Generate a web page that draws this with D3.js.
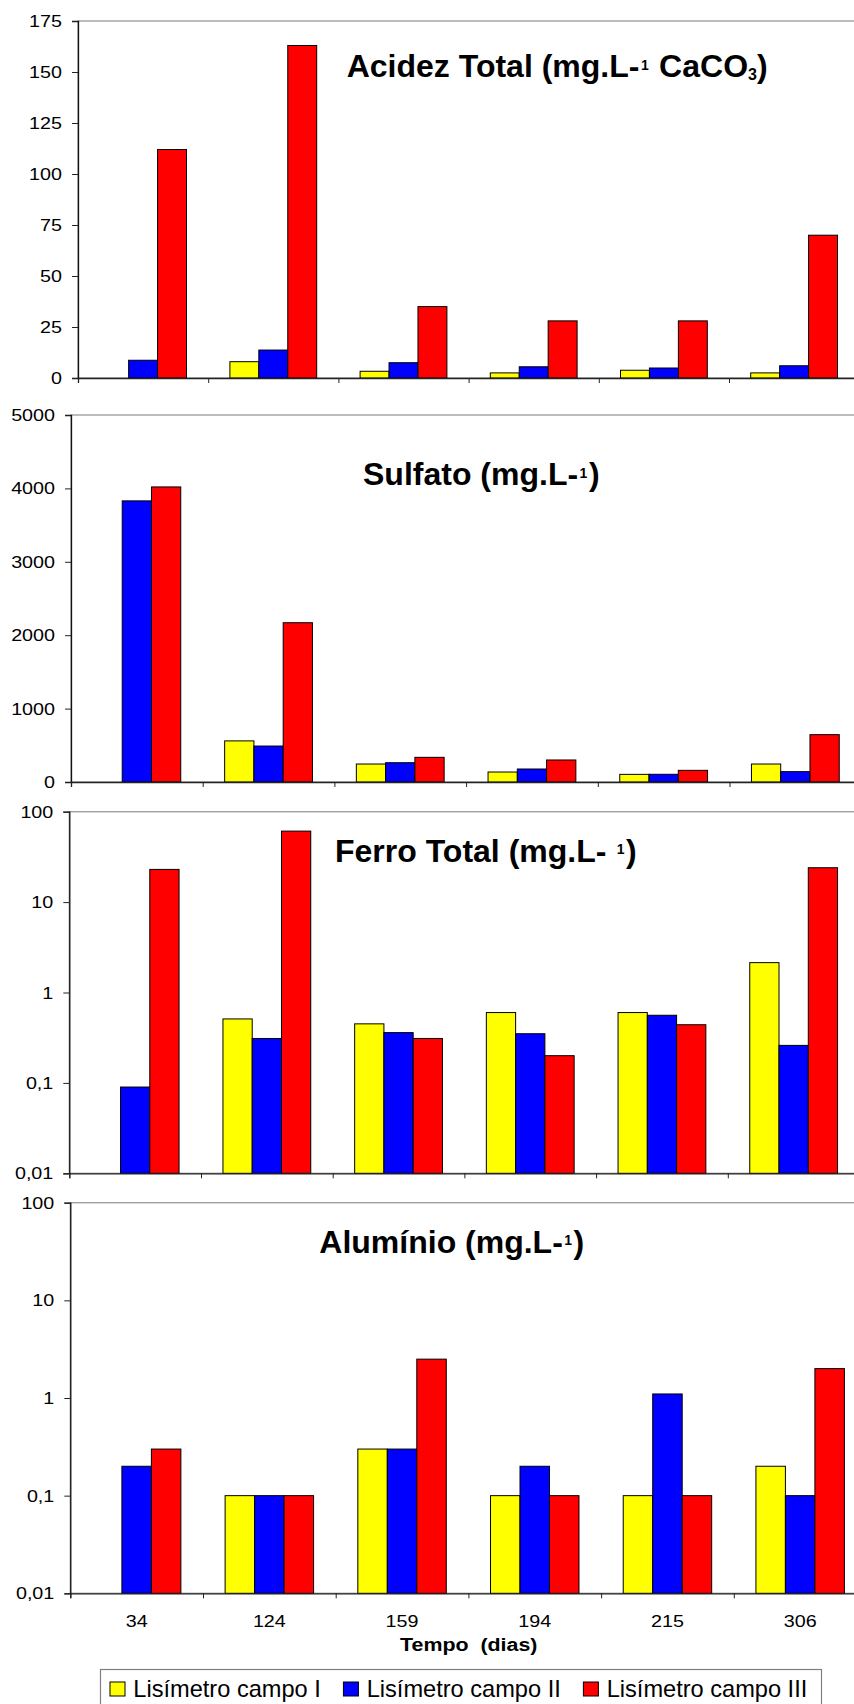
<!DOCTYPE html>
<html>
<head>
<meta charset="utf-8">
<script src="https://cdn.jsdelivr.net/npm/d3@7"></script>
<style>
  html, body { margin: 0; padding: 0; background: #fff; }
  svg { display: block; font-family: "Liberation Sans", Arial, sans-serif; }
</style>
</head>
<body>
<svg id="chart" width="854" height="1704"></svg>
<script>
// Sampling days (categories) and lysimeter series
const categories = ["34", "124", "159", "194", "215", "306"];
const seriesNames = ["Lisímetro campo I", "Lisímetro campo II", "Lisímetro campo III"];
const seriesColors = ["#ffff00", "#0000ff", "#ff0000"];

// Acidez total (mg.L-1 CaCO3)
const acidezI   = [null, 8, 3.3, 2.5, 3.8, 2.5];
const acidezII  = [8.7, 13.7, 7.5, 5.5, 4.9, 6];
const acidezIII = [112, 163, 35, 28, 28, 70];

// Sulfato (mg.L-1)
const sulfatoI   = [null, 560, 245, 136, 104, 245];
const sulfatoII  = [3830, 490, 263, 177, 105, 141];
const sulfatoIII = [4020, 2170, 336, 300, 159, 645];

// Ferro total (mg.L-1), log scale
const ferroI   = [null, 0.51, 0.45, 0.60, 0.60, 2.14];
const ferroII  = [0.09, 0.31, 0.36, 0.35, 0.56, 0.26];
const ferroIII = [23, 61, 0.31, 0.20, 0.44, 24];

// Alumínio (mg.L-1), log scale
const aluminioI   = [null, 0.1, 0.3, 0.1, 0.1, 0.2];
const aluminioII  = [0.2, 0.1, 0.3, 0.2, 1.1, 0.1];
const aluminioIII = [0.3, 0.1, 2.5, 0.1, 0.1, 2.0];

// Axis tick values
const acidezTicks = [0, 25, 50, 75, 100, 125, 150, 175];
const sulfatoTicks = [0, 1000, 2000, 3000, 4000, 5000];
const logTicks = [0.01, 0.1, 1, 10, 100];

const xAxisTitle = "Tempo  (dias)";

const panels = [
  { title: [{ t: "Acidez Total (mg.L-" }, { t: "1", sup: true }, { t: " CaCO" }, { t: "3", sub: true }, { t: ")" }],
    series: [acidezI, acidezII, acidezIII], log: false, domain: [0, 175], ticks: acidezTicks,
    x0: 78, top: 21, bottom: 378, step: 130.2, titleX: 346.7, titleY: 77 },
  { title: [{ t: "Sulfato (mg.L-" }, { t: "1", sup: true }, { t: ")" }],
    series: [sulfatoI, sulfatoII, sulfatoIII], log: false, domain: [0, 5000], ticks: sulfatoTicks,
    x0: 71, top: 415, bottom: 782, step: 131.7, titleX: 363, titleY: 485 },
  { title: [{ t: "Ferro Total (mg.L- " }, { t: "1", sup: true }, { t: ")" }],
    series: [ferroI, ferroII, ferroIII], log: true, domain: [0.01, 100], ticks: logTicks,
    x0: 69.3, top: 811.7, bottom: 1173.3, step: 131.7, titleX: 335, titleY: 861.7 },
  { title: [{ t: "Alumínio (mg.L-" }, { t: "1", sup: true }, { t: ")" }],
    series: [aluminioI, aluminioII, aluminioIII], log: true, domain: [0.01, 100], ticks: logTicks,
    x0: 70.3, top: 1202.7, bottom: 1593.3, step: 132.7, titleX: 319.3, titleY: 1252.7, showCategories: true }
];

const svg = d3.select("#chart");
const STRETCH = 1.14;   // the axis lettering is drawn slightly wide
const fmt = d => String(d).replace(".", ",");

panels.forEach(p => {
  const n = categories.length;
  const x1 = p.x0 + p.step * n;
  const g = svg.append("g");

  const x = d3.scaleBand().domain(categories).range([p.x0, x1])
    .paddingInner(1 / 3).paddingOuter(1 / 6);
  const xs = d3.scaleBand().domain(d3.range(seriesNames.length)).range([0, x.bandwidth()]);
  const y = p.log
    ? d3.scaleLog().domain(p.domain).range([p.bottom, p.top])
    : d3.scaleLinear().domain(p.domain).range([p.bottom, p.top]);
  const base = p.domain[0];

  // plot area frame
  g.append("rect")
    .attr("x", p.x0).attr("y", p.top)
    .attr("width", x1 - p.x0).attr("height", p.bottom - p.top)
    .attr("fill", "none").attr("stroke", "#a0a0a0").attr("stroke-width", 1.4);

  // bars
  p.series.forEach((vals, si) => {
    g.append("g").selectAll("rect")
      .data(vals.map((v, i) => ({ v, c: categories[i] })).filter(d => d.v != null))
      .join("rect")
      .attr("x", d => x(d.c) + xs(si))
      .attr("y", d => y(d.v))
      .attr("width", xs.bandwidth())
      .attr("height", d => y(base) - y(d.v))
      .attr("fill", seriesColors[si])
      .attr("stroke", "#000").attr("stroke-width", 1);
  });

  // value axis
  const yAxis = g.append("g").attr("transform", `translate(${p.x0},0)`)
    .call(d3.axisLeft(y).tickValues(p.ticks).tickSize(6).tickPadding(10).tickFormat(fmt));
  yAxis.select(".domain").attr("stroke", "#111").attr("stroke-width", 1.3);
  yAxis.selectAll(".tick line").attr("stroke", "#222");
  yAxis.selectAll(".tick text")
    .attr("font-size", 17.3).attr("font-family", "Liberation Sans, Arial, sans-serif")
    .attr("fill", "#000")
    .attr("x", -16 / STRETCH)
    .attr("transform", `scale(${STRETCH},1)`);

  // category axis: ticks on category boundaries
  const xb = d3.scaleLinear().domain([0, n]).range([p.x0, x1]);
  const xAxis = g.append("g").attr("transform", `translate(0,${p.bottom})`)
    .call(d3.axisBottom(xb).tickValues(d3.range(n + 1)).tickSize(5).tickFormat(""));
  xAxis.select(".domain").attr("stroke", "#222").attr("stroke-width", 1.3);
  xAxis.selectAll(".tick line").attr("stroke", "#222");

  if (p.showCategories) {
    const lab = g.append("g").attr("transform", `translate(0,${p.bottom})`)
      .call(d3.axisBottom(x).tickSize(0).tickPadding(0));
    lab.select(".domain").remove();
    lab.selectAll(".tick text")
      .attr("font-size", 17.3).attr("font-family", "Liberation Sans, Arial, sans-serif")
      .attr("fill", "#000")
      .attr("dy", null).attr("y", 33.4)
      .attr("transform", `scale(${STRETCH},1)`);
  }

  // panel title with small super/subscripts
  const title = g.append("text")
    .attr("x", p.titleX).attr("y", p.titleY)
    .attr("font-size", 32).attr("font-weight", "bold").attr("fill", "#000")
    .attr("font-family", "Liberation Sans, Arial, sans-serif");
  let shift = 0;
  let pad = 0;
  p.title.forEach(part => {
    let target = 0;
    if (part.sup) target = -7.5;
    if (part.sub) target = 3;
    const ts = title.append("tspan").text(part.t).attr("dy", target - shift);
    if (part.sup) ts.attr("font-size", 14).attr("dx", 1.5);
    else if (pad) ts.attr("dx", pad);
    if (part.sub) ts.attr("font-size", 16);
    pad = part.sup ? 1.5 : 0;
    shift = target;
  });
});

// x axis title
svg.append("text")
  .attr("transform", `translate(468.7,1650.7) scale(1.15,1)`)
  .attr("text-anchor", "middle")
  .attr("font-size", 18.6).attr("font-weight", "bold").attr("fill", "#000")
  .style("white-space", "pre")
  .text(xAxisTitle);

// legend
const legend = svg.append("g");
legend.append("rect")
  .attr("x", 100.5).attr("y", 1669.5).attr("width", 721).attr("height", 45)
  .attr("fill", "#fff").attr("stroke", "#808080").attr("stroke-width", 1.2);
let lx = 110;
seriesNames.forEach((name, i) => {
  legend.append("rect")
    .attr("x", lx).attr("y", 1682).attr("width", 15).attr("height", 14)
    .attr("fill", seriesColors[i]).attr("stroke", "#000").attr("stroke-width", 1);
  const t = legend.append("text")
    .attr("x", lx + 23.3).attr("y", 1696.7)
    .attr("font-size", 23.6).attr("fill", "#000")
    .text(name);
  lx = lx + 23.3 + t.node().getComputedTextLength() + 22.6;
});
</script>
</body>
</html>
